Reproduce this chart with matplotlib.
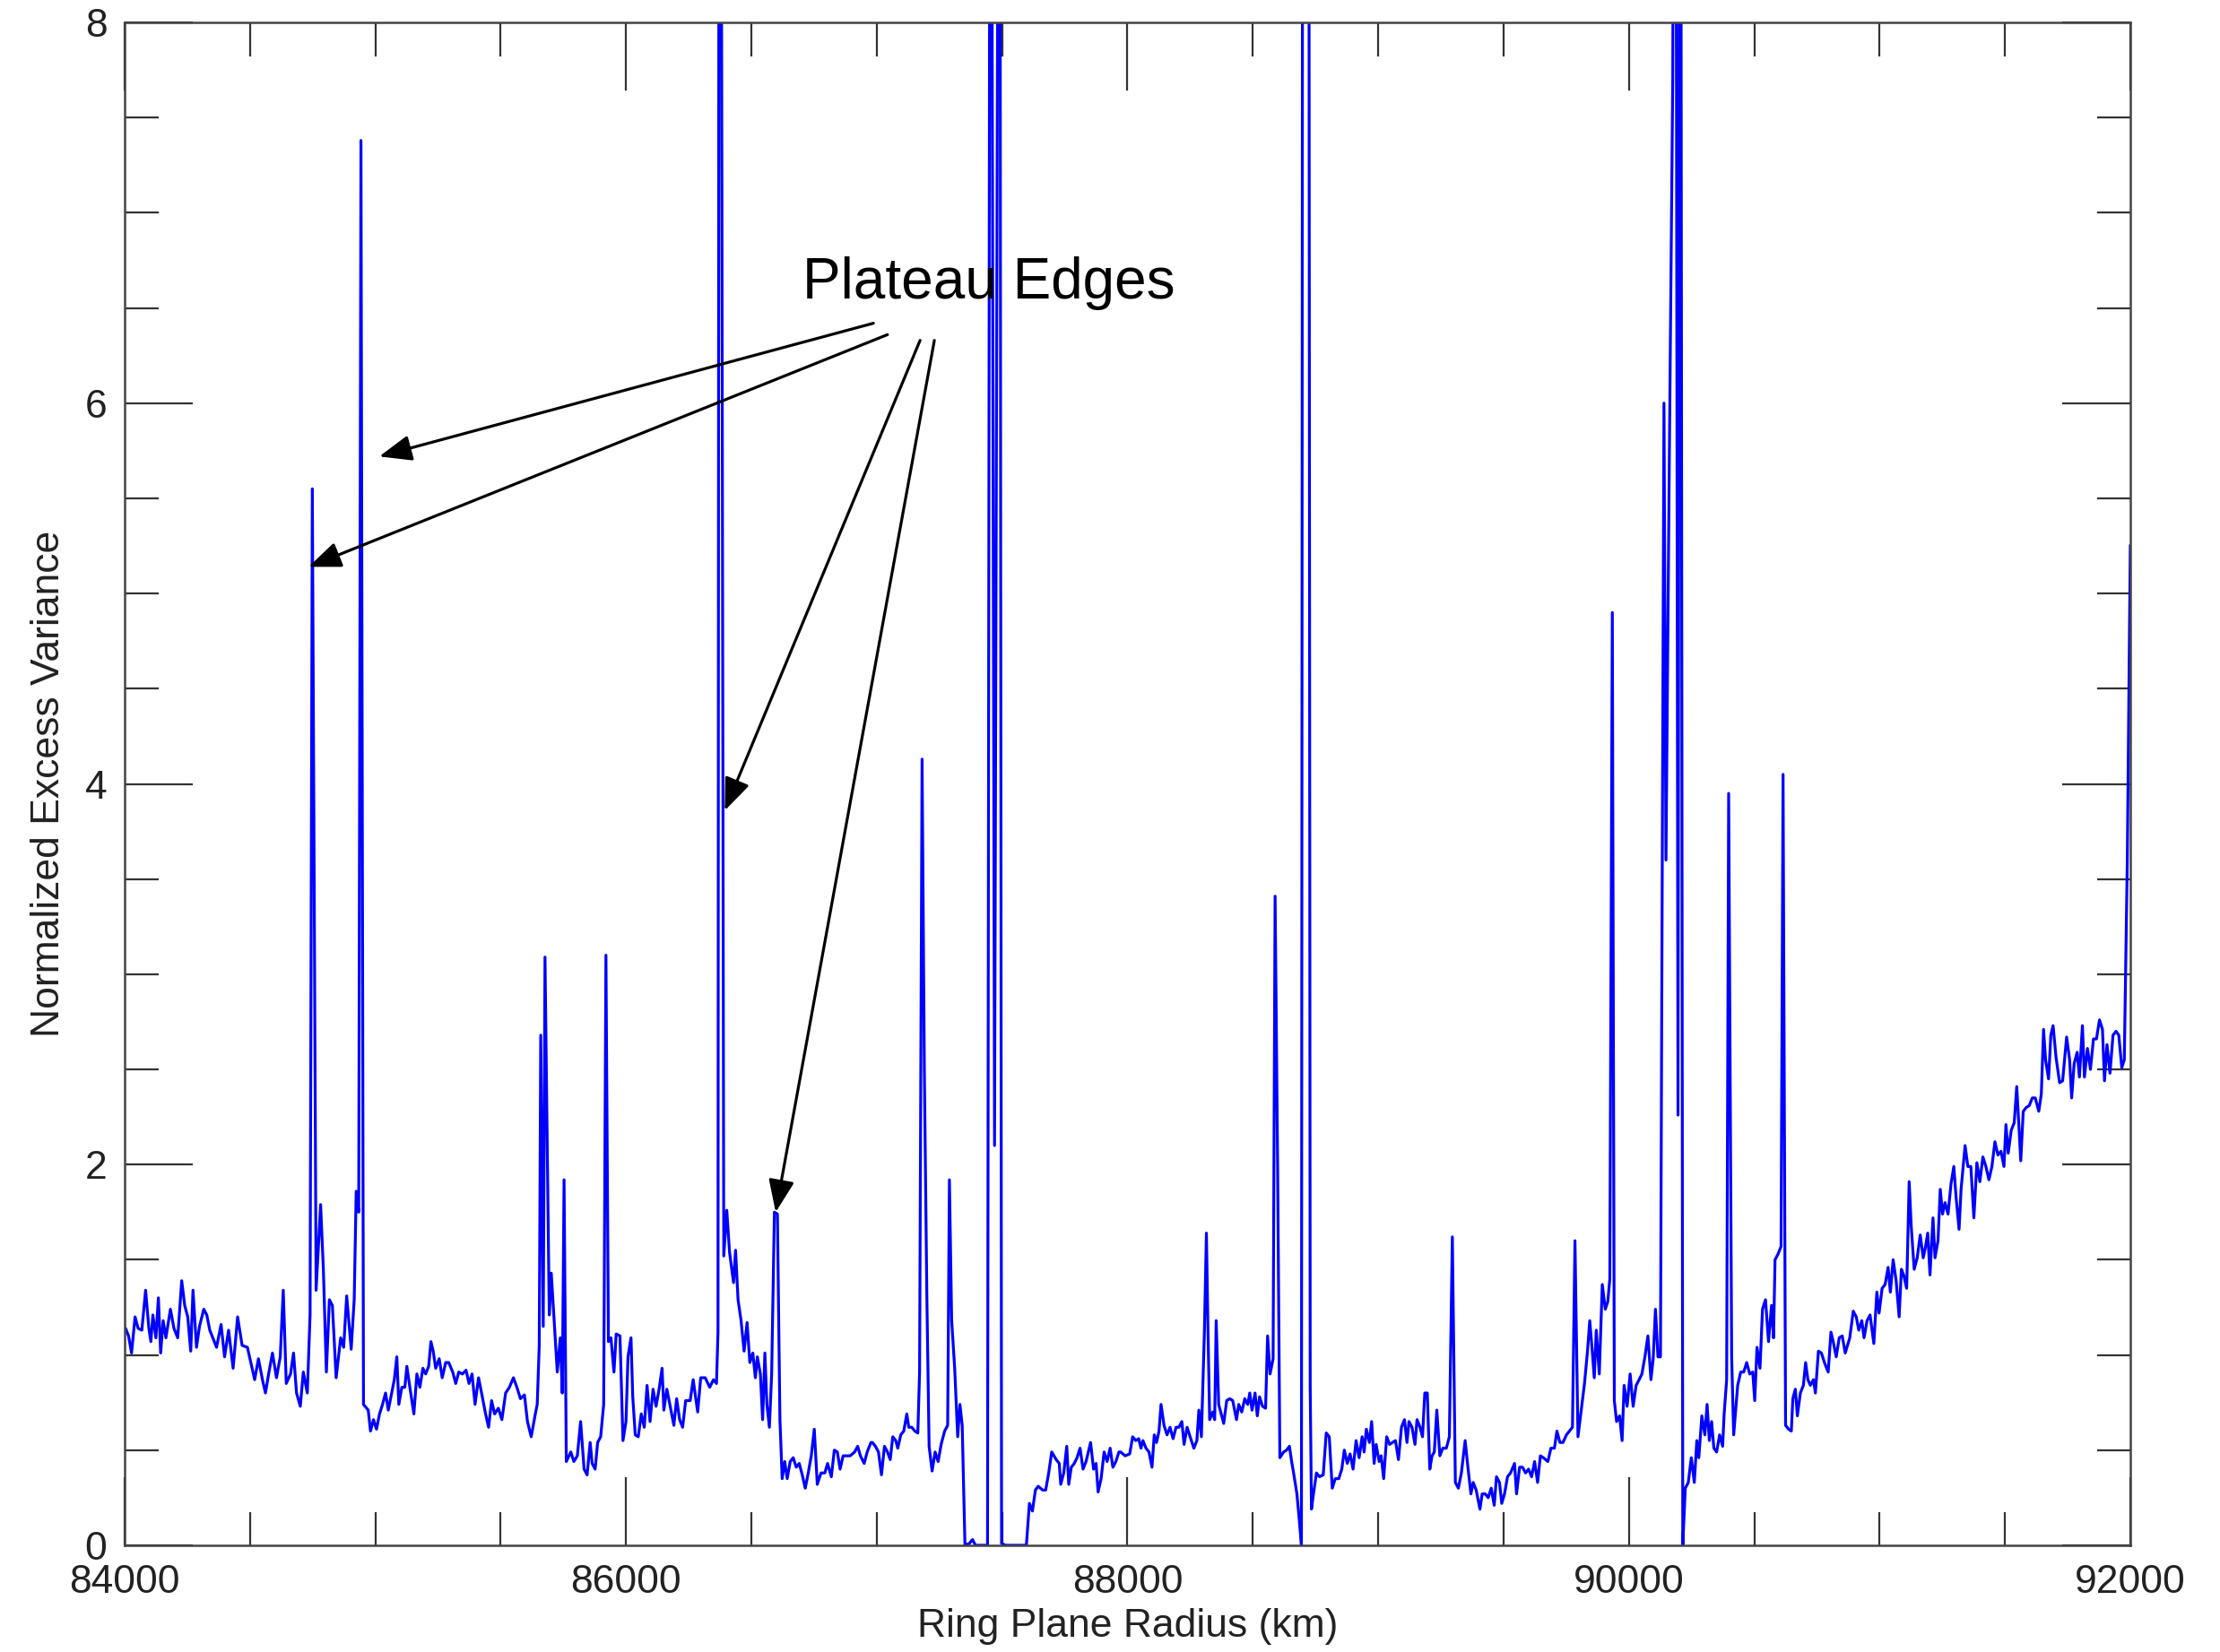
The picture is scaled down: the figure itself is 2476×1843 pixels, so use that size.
import matplotlib

matplotlib.use("Agg")
import matplotlib.pyplot as plt
from matplotlib.ticker import MultipleLocator

# Ring plane radius (km) and normalized excess variance.
# Values above 8 stand for spikes that run off the top of the plot.
radius_km = [
    84000, 84004, 84016, 84028, 84042, 84054, 84069, 84084, 84097, 84105,
    84113, 84125, 84135, 84144, 84154, 84165, 84183, 84197, 84212, 84228,
    84240, 84252, 84264, 84273, 84287, 84299, 84316, 84328, 84340, 84352,
    84367, 84385, 84399, 84415, 84433, 84451, 84469, 84490, 84507, 84519,
    84534, 84550, 84562, 84576, 84590, 84606, 84621, 84633, 84645, 84662,
    84674, 84686, 84701, 84713, 84729, 84740, 84749, 84764, 84782, 84793,
    84805, 84817, 84829, 84844, 84862, 84874, 84886, 84904, 84916, 84924,
    84934, 84943, 84953, 84972,
    84981, 84993, 85005, 85017, 85029, 85041, 85052, 85064, 85076, 85086,
    85094, 85106, 85118, 85126, 85138, 85154, 85166, 85178, 85190, 85201,
    85213, 85222, 85231, 85241, 85255, 85267, 85281, 85293, 85309, 85321,
    85333, 85348, 85362, 85374, 85386, 85398, 85412, 85424, 85440, 85452,
    85464, 85476, 85491, 85505, 85520, 85535, 85551, 85565, 85579, 85595,
    85607, 85622, 85637, 85646, 85654, 85660, 85670, 85677, 85694, 85702,
    85726, 85738, 85746, 85753, 85762, 85780, 85792, 85806, 85819, 85833,
    85845, 85857, 85865, 85877, 85887, 85899, 85911, 85920, 85930, 85940,
    85952, 85961, 85976,
    85988, 86000, 86008, 86020, 86027, 86037, 86049, 86061, 86073, 86084,
    86096, 86108, 86120, 86132, 86144, 86151, 86163, 86175, 86191, 86202,
    86214, 86226, 86238, 86256, 86268, 86286, 86298, 86316, 86334, 86349,
    86361, 86367, 86372, 86380, 86390, 86402, 86413, 86429, 86437, 86447,
    86459, 86471, 86483, 86494, 86506, 86516, 86524, 86536, 86545, 86554,
    86562, 86572, 86581, 86592, 86604, 86614, 86623, 86633, 86643, 86655,
    86667, 86679, 86691, 86703, 86715, 86727, 86739, 86751, 86763, 86778,
    86793, 86804, 86819, 86831, 86843, 86854, 86866, 86882, 86894, 86912,
    86924, 86935, 86950, 86962, 86977,
    86983, 86995, 87007, 87019, 87031, 87043, 87054, 87064, 87076, 87084,
    87096, 87108, 87120, 87128, 87140, 87152, 87164, 87171, 87181, 87190,
    87200, 87209, 87221, 87233, 87245, 87257, 87271, 87283, 87290, 87299,
    87311, 87323, 87332, 87341, 87352, 87370, 87382, 87394, 87442, 87454,
    87470, 87490, 87498, 87513, 87597, 87609, 87621, 87633, 87644, 87662,
    87674, 87686, 87698, 87716, 87728, 87734, 87746, 87758, 87766, 87776,
    87788, 87799, 87811, 87823, 87835, 87853, 87865, 87875, 87883, 87895,
    87907, 87919, 87931, 87942, 87954, 87966,
    87973, 87991, 88009, 88021, 88033, 88045, 88054, 88062, 88074, 88086,
    88098, 88107, 88116, 88126, 88134, 88146, 88158, 88170, 88182, 88194,
    88205, 88217, 88226, 88238, 88250, 88265, 88277, 88285, 88295, 88307,
    88315, 88321, 88328, 88340, 88348, 88354, 88364, 88372, 88384, 88396,
    88408, 88420, 88435, 88444, 88456, 88468, 88480, 88488, 88497, 88509,
    88518, 88527, 88539, 88551, 88559, 88569, 88581, 88589, 88599, 88608,
    88623, 88635, 88646, 88655, 88664, 88676, 88685, 88694, 88700, 88712,
    88722, 88729, 88734, 88742, 88754, 88766, 88781, 88793, 88805, 88817,
    88829, 88843, 88855, 88865, 88877, 88888, 88900, 88912, 88924, 88936,
    88944, 88953, 88965,
    88974, 88984, 88992, 89004, 89012, 89022, 89034, 89046, 89057, 89069,
    89081, 89093, 89105, 89115, 89123, 89135, 89147, 89155, 89167, 89177,
    89186, 89196, 89206, 89215, 89224, 89234, 89246, 89258, 89272, 89284,
    89296, 89308, 89320, 89332, 89347, 89358, 89370, 89379, 89391, 89406,
    89415, 89427, 89439, 89451, 89463, 89472, 89484, 89493, 89504, 89516,
    89528, 89544, 89552, 89564, 89576, 89588, 89600, 89612, 89624, 89636,
    89647, 89659, 89677, 89689, 89703, 89713, 89725, 89737, 89751, 89763,
    89775, 89785, 89797, 89808, 89823, 89835, 89844, 89854, 89862, 89870,
    89882, 89894, 89906, 89916, 89924, 89934, 89942, 89951, 89963, 89973,
    89981, 89993, 90005, 90017, 90029, 90041, 90052, 90064, 90076, 90088,
    90097, 90106, 90116, 90126, 90140, 90148, 90160, 90175, 90185, 90196,
    90205, 90215, 90225, 90237, 90249, 90261, 90271, 90279, 90291, 90303,
    90312, 90321, 90330, 90339, 90350, 90362, 90374, 90380, 90390, 90398,
    90410, 90418, 90434, 90446, 90458, 90470, 90482, 90494, 90502, 90511,
    90523, 90533, 90545, 90557, 90569, 90577, 90583, 90595, 90607, 90615,
    90625, 90637, 90648, 90654, 90664, 90672, 90684, 90696, 90705, 90714,
    90724, 90736, 90744, 90756, 90768, 90780, 90795, 90806, 90815, 90827,
    90839, 90851, 90863, 90881, 90895, 90907, 90917, 90929, 90938, 90950,
    90962,
    90977, 90989, 90998, 91010, 91022, 91034, 91043, 91054, 91066, 91078,
    91087, 91096, 91108, 91118, 91126, 91138, 91150, 91162, 91174, 91182,
    91192, 91201, 91213, 91221, 91233, 91242, 91251, 91261, 91273, 91285,
    91296, 91305, 91317, 91325, 91341, 91352, 91364, 91376, 91388, 91400,
    91412, 91424, 91436, 91448, 91460, 91472, 91484, 91496, 91504, 91513,
    91525, 91537, 91547, 91555, 91563, 91573, 91585, 91597, 91609, 91621,
    91635, 91645, 91654, 91662, 91674, 91683, 91692, 91704, 91718, 91730,
    91746, 91758, 91766, 91776, 91788, 91797, 91809, 91817, 91829, 91841,
    91853, 91865, 91877, 91889, 91897, 91907, 91919, 91931, 91943, 91954,
    91966, 91976, 91988, 92000,
]

excess_variance = [
    1.12, 1.14, 1.10, 1.01, 1.20, 1.14, 1.13, 1.34, 1.14, 1.07,
    1.21, 1.09, 1.30, 1.01, 1.18, 1.09, 1.24, 1.14, 1.09, 1.39,
    1.26, 1.20, 1.02, 1.34, 1.04, 1.15, 1.24, 1.21, 1.13, 1.09,
    1.04, 1.16, 0.99, 1.13, 0.93, 1.20, 1.05, 1.04, 0.94, 0.87,
    0.98, 0.87, 0.80, 0.91, 1.01, 0.88, 0.99, 1.34, 0.85, 0.90,
    1.01, 0.80, 0.73, 0.91, 0.80, 1.21, 5.55, 1.34, 1.79, 1.45,
    0.91, 1.29, 1.26, 0.88, 1.09, 1.04, 1.31, 1.03, 1.29, 1.86,
    1.75, 7.38, 0.74, 0.71,
    0.60, 0.66, 0.61, 0.69, 0.74, 0.80, 0.71, 0.79, 0.87, 0.99,
    0.74, 0.83, 0.83, 0.94, 0.83, 0.69, 0.90, 0.83, 0.93, 0.90,
    0.94, 1.07, 1.02, 0.93, 0.98, 0.88, 0.96, 0.96, 0.91, 0.85,
    0.91, 0.90, 0.92, 0.85, 0.90, 0.74, 0.88, 0.80, 0.69, 0.62,
    0.76, 0.69, 0.72, 0.66, 0.80, 0.83, 0.88, 0.83, 0.77, 0.79,
    0.65, 0.57, 0.68, 0.74, 1.05, 2.68, 1.15, 3.09, 1.21, 1.43,
    0.91, 1.09, 0.80, 1.92, 0.44, 0.49, 0.44, 0.47, 0.65, 0.40,
    0.37, 0.54, 0.43, 0.40, 0.54, 0.57, 0.74, 3.10, 1.07, 1.09,
    0.91, 1.11, 1.10,
    0.55, 0.65, 0.99, 1.09, 0.78, 0.58, 0.57, 0.69, 0.62, 0.84,
    0.65, 0.82, 0.73, 0.82, 0.93, 0.71, 0.82, 0.74, 0.63, 0.77,
    0.66, 0.62, 0.76, 0.76, 0.87, 0.70, 0.88, 0.88, 0.83, 0.87,
    0.85, 1.12, 12.0, 9.0, 1.52, 1.76, 1.54, 1.38, 1.55, 1.29,
    1.18, 1.02, 1.17, 0.96, 1.01, 0.88, 0.99, 0.90, 0.66, 1.01,
    0.74, 0.62, 0.90, 1.75, 1.74, 0.66, 0.35, 0.44, 0.35, 0.44,
    0.46, 0.41, 0.43, 0.37, 0.30, 0.38, 0.47, 0.61, 0.32, 0.38,
    0.38, 0.43, 0.36, 0.50, 0.49, 0.40, 0.47, 0.47, 0.47, 0.49,
    0.52, 0.47, 0.43, 0.49, 0.54,
    0.54, 0.52, 0.49, 0.37, 0.52, 0.49, 0.45, 0.57, 0.55, 0.51,
    0.58, 0.60, 0.69, 0.62, 0.62, 0.60, 0.59, 0.91, 4.13, 2.50,
    1.31, 0.52, 0.39, 0.49, 0.44, 0.53, 0.60, 0.63, 1.92, 1.18,
    0.93, 0.57, 0.74, 0.63, 0.00, 0.01, 0.03, 0.00, 0.00, 12.0,
    2.10, 12.0, 0.01, 0.00, 0.00, 0.22, 0.18, 0.29, 0.31, 0.29,
    0.29, 0.38, 0.49, 0.45, 0.43, 0.32, 0.38, 0.52, 0.32, 0.41,
    0.43, 0.46, 0.51, 0.40, 0.44, 0.54, 0.40, 0.43, 0.28, 0.35,
    0.49, 0.44, 0.51, 0.41, 0.44, 0.49,
    0.49, 0.47, 0.48, 0.57, 0.55, 0.56, 0.51, 0.55, 0.51, 0.49,
    0.41, 0.58, 0.54, 0.60, 0.74, 0.63, 0.58, 0.62, 0.56, 0.62,
    0.62, 0.65, 0.53, 0.62, 0.57, 0.51, 0.55, 0.71, 0.57, 1.12,
    1.64, 1.15, 0.66, 0.70, 0.66, 1.18, 0.74, 0.70, 0.64, 0.76,
    0.77, 0.76, 0.66, 0.74, 0.70, 0.77, 0.74, 0.80, 0.71, 0.80,
    0.68, 0.78, 0.73, 0.72, 1.10, 0.90, 0.98, 3.41, 2.00, 0.46,
    0.49, 0.50, 0.52, 0.44, 0.37, 0.27, 0.14, 0.00, 12.0, 12.0,
    12.0, 0.83, 0.19, 0.27, 0.38, 0.36, 0.37, 0.59, 0.57, 0.30,
    0.35, 0.35, 0.40, 0.50, 0.43, 0.48, 0.40, 0.55, 0.46, 0.57,
    0.49, 0.61, 0.54,
    0.65, 0.43, 0.53, 0.44, 0.47, 0.35, 0.57, 0.53, 0.54, 0.55,
    0.45, 0.62, 0.66, 0.54, 0.65, 0.62, 0.53, 0.66, 0.62, 0.57,
    0.80, 0.80, 0.40, 0.47, 0.49, 0.71, 0.47, 0.51, 0.51, 0.57,
    1.62, 0.33, 0.30, 0.38, 0.55, 0.41, 0.27, 0.33, 0.29, 0.19,
    0.27, 0.27, 0.25, 0.30, 0.21, 0.36, 0.33, 0.22, 0.27, 0.36,
    0.38, 0.43, 0.27, 0.41, 0.41, 0.38, 0.40, 0.36, 0.44, 0.33,
    0.47, 0.46, 0.44, 0.51, 0.51, 0.60, 0.54, 0.54, 0.58, 0.60,
    0.62, 1.60, 0.57, 0.69, 0.85, 1.02, 1.18, 1.02, 0.88, 1.13,
    0.90, 1.37, 1.24, 1.28, 1.40, 4.90, 0.76, 0.65, 0.68, 0.55,
    0.84, 0.73, 0.90, 0.73, 0.84, 0.87, 0.90, 0.99, 1.10, 0.87,
    0.98, 1.24, 0.99, 0.99, 6.00, 3.60, 5.50, 7.70, 12.0, 2.26,
    12.0, 0.00, 0.30, 0.33, 0.46, 0.33, 0.55, 0.46, 0.68, 0.58,
    0.74, 0.55, 0.65, 0.51, 0.49, 0.58, 0.52, 0.69, 0.87, 3.95,
    0.99, 0.58, 0.84, 0.91, 0.91, 0.96, 0.90, 0.91, 0.76, 1.04,
    0.93, 1.24, 1.29, 1.07, 1.26, 1.09, 1.50, 1.53, 1.57, 4.05,
    0.63, 0.61, 0.60, 0.77, 0.82, 0.68, 0.80, 0.84, 0.96, 0.87,
    0.84, 0.87, 0.80, 1.02, 1.01, 0.96, 0.91, 1.12, 1.07, 0.99,
    1.09, 1.10, 1.01, 1.09, 1.23, 1.20, 1.13, 1.18, 1.09, 1.18,
    1.21,
    1.06, 1.33, 1.22, 1.35, 1.37, 1.46, 1.33, 1.50, 1.39, 1.20,
    1.45, 1.42, 1.35, 1.91, 1.68, 1.45, 1.51, 1.63, 1.51, 1.56,
    1.64, 1.42, 1.72, 1.51, 1.60, 1.87, 1.74, 1.80, 1.74, 1.90,
    1.99, 1.83, 1.66, 1.87, 2.10, 1.99, 1.99, 1.72, 2.01, 1.91,
    2.04, 1.99, 1.92, 1.99, 2.12, 2.05, 2.07, 1.99, 2.21, 2.06,
    2.18, 2.22, 2.41, 2.22, 2.02, 2.28, 2.30, 2.31, 2.35, 2.35,
    2.28, 2.37, 2.71, 2.55, 2.45, 2.68, 2.73, 2.56, 2.43, 2.44,
    2.67, 2.55, 2.35, 2.53, 2.59, 2.46, 2.73, 2.46, 2.61, 2.50,
    2.66, 2.66, 2.76, 2.71, 2.44, 2.63, 2.48, 2.68, 2.70, 2.68,
    2.51, 2.55, 3.60, 5.25,
]

# "Plateau Edges" arrows: (tail radius, tail value, tip radius, tip value)
arrow_tails = [(86987, 6.42), (87043, 6.36), (87173, 6.33), (87230, 6.33)]
arrow_tips = [(85016, 5.72), (84734, 5.14), (86394, 3.86), (86597, 1.75)]

x_ticks = [84000, 86000, 88000, 90000, 92000]
y_ticks = [0, 2, 4, 6, 8]

label_font = "Liberation Sans"

fig = plt.figure(figsize=(24.76, 18.43), dpi=100)
ax = fig.add_axes([0.0561, 0.0646, 0.9035, 0.9218])

ax.plot(radius_km, excess_variance, color="#0000ff", linewidth=2.3)

ax.set_xlim(84000, 92000)
ax.set_ylim(0, 8)
ax.set_xticks(x_ticks)
ax.set_yticks(y_ticks)
ax.xaxis.set_minor_locator(MultipleLocator(500))
ax.yaxis.set_minor_locator(MultipleLocator(0.5))
ax.tick_params(which="both", direction="in", top=True, right=True,
               color="#333333", width=1.6)
ax.tick_params(which="major", length=55)
ax.tick_params(which="minor", length=27)
ax.tick_params(axis="x", pad=15)
ax.tick_params(axis="y", pad=14)
for lab in ax.get_xticklabels() + ax.get_yticklabels():
    lab.set_family(label_font)
    lab.set_fontsize(32)
    lab.set_color("#222222")

for side in ax.spines.values():
    side.set_linewidth(1.8)
    side.set_color("#444444")

ax.set_xlabel("Ring Plane Radius (km)", family=label_font, fontsize=32,
              color="#222222", labelpad=6)
ax.set_ylabel("Normalized Excess Variance", family=label_font, fontsize=32,
              color="#222222", labelpad=14)

ax.text(86703, 6.55, "Plateau Edges", family="Liberation Sans", fontsize=46,
        ha="left", va="baseline", color="black")
for tail, tip in zip(arrow_tails, arrow_tips):
    ax.annotate("", xy=tip, xytext=tail,
                arrowprops=dict(arrowstyle="-|>,head_length=0.55,head_width=0.22",
                                color="black", lw=2.3, mutation_scale=40,
                                shrinkA=0, shrinkB=0))

fig.savefig("out.png", dpi=100)
